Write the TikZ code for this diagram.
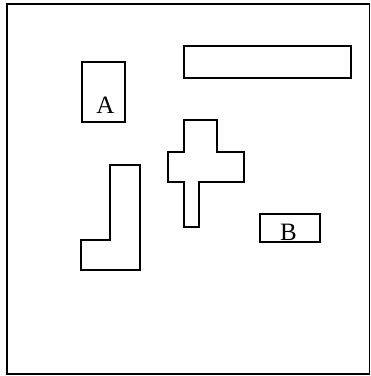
\documentclass[tikz,border=0pt]{standalone}
\usepackage{fontspec}
\setmainfont{Liberation Serif}
\begin{document}
\begin{tikzpicture}[x=1pt,y=-1pt,
  outl/.style={draw=black,line width=1.9pt,line join=miter},
  lbl/.style={inner sep=0pt,anchor=base,font=\fontsize{25}{25}\selectfont}]
\useasboundingbox (0,0) rectangle (371,376);
\draw[outl] (7,4) rectangle (369.5,374);
% rect A
\draw[outl] (82,62) rectangle (125,122);
\node[lbl] (A) at (105.5,113) {A};
% long rect
\draw[outl] (184,46) rectangle (351,78);
% cross
\draw[outl] (184,120) -- (217,120) -- (217,152) -- (244,152) -- (244,182) -- (199,182) -- (199,227) -- (184,227) -- (184,182) -- (168,182) -- (168,152) -- (184,152) -- cycle;
% L shape
\draw[outl] (110,165) -- (140,165) -- (140,270) -- (81,270) -- (81,240) -- (110,240) -- cycle;
% rect B
\draw[outl] (260,214) rectangle (320,242);
\node[lbl] (B) at (288.5,240.5) {B};
\end{tikzpicture}
\end{document}
